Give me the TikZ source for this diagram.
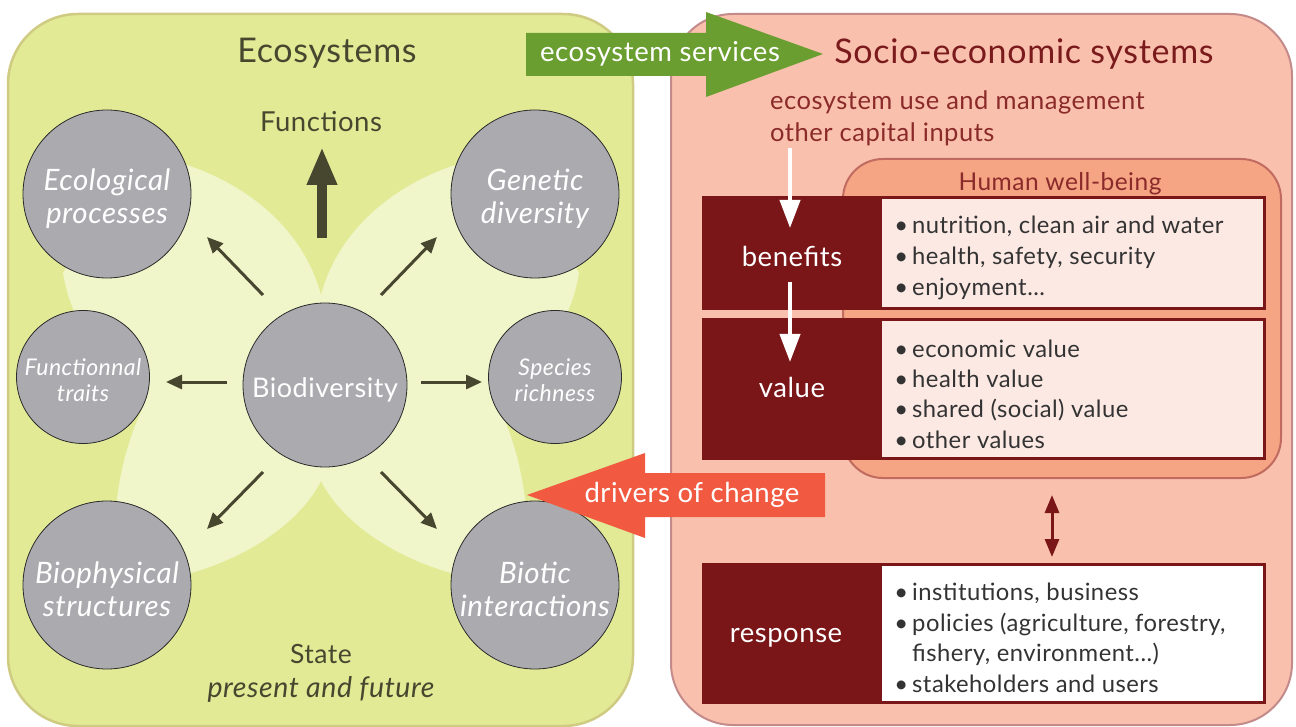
\documentclass[tikz,border=0pt]{standalone}
\usepackage{fontspec}
\setmainfont{Lato}[LetterSpace=2]
\usetikzlibrary{arrows.meta}
\definecolor{ecofill}{HTML}{E2EA96}
\definecolor{ecoborder}{HTML}{CFCB82}
\definecolor{wingc}{HTML}{F0F6CA}
\definecolor{circgray}{HTML}{ABABAF}
\definecolor{circline}{HTML}{2A2A2A}
\definecolor{olivedark}{HTML}{47472F}
\definecolor{esgreen}{HTML}{6A9E30}
\definecolor{sefill}{HTML}{F9C1AD}
\definecolor{seborder}{HTML}{C48A8A}
\definecolor{hwbfill}{HTML}{F5A584}
\definecolor{hwbborder}{HTML}{C06A60}
\definecolor{darkred}{HTML}{7A1518}
\definecolor{lightpink}{HTML}{FCE9E3}
\definecolor{driverred}{HTML}{F15A40}
\definecolor{titlered}{HTML}{7A1A1C}
\definecolor{subred}{HTML}{8B2A2A}
\definecolor{bodytext}{HTML}{333333}
\newcommand{\fsz}[2]{\fontsize{#1}{#2}\selectfont}
\begin{document}
\begin{tikzpicture}[x=1pt,y=-1pt,
  circ/.style={circle, draw=circline, line width=0.8pt, fill=circgray, inner sep=0pt},
  ctext/.style={text=white, align=center, inner sep=0pt},
  smallarr/.style={draw=olivedark, line width=3pt, -{Triangle[length=16pt,width=14pt]}},
  bigarr/.style={draw=olivedark, line width=10pt, -{Triangle[length=38pt,width=28pt]}},
  whitearr/.style={draw=white, line width=4pt, -{Triangle[length=28pt,width=20pt]}},
  redarr/.style={draw=darkred, line width=3pt, {Triangle[length=18pt,width=14pt]}-{Triangle[length=18pt,width=14pt]}},
  rowdark/.style={fill=darkred, draw=none, anchor=north west, inner sep=0pt},
  rowlight/.style={draw=none, anchor=north west, inner sep=0pt},
  rowlabel/.style={text=white, anchor=base, font=\fsz{27.5}{32}},
  bullet/.style={text=bodytext, anchor=base west, font=\fsz{23.8}{28}, inner sep=0pt},
  eotext/.style={text=olivedark}
]
\useasboundingbox (0,0) rectangle (1296,727);
% panels
\draw[fill=ecofill, draw=ecoborder, line width=2.5pt, rounded corners=70pt] (8,14) rectangle (633,726);
\draw[fill=sefill, draw=seborder, line width=2pt, rounded corners=62pt] (671,14) rectangle (1292,725);
% butterfly
\fill[wingc] (321,295) .. controls (305,235) and (255,188) .. (187,165)
 -- (107,194) -- (63,273) .. controls (66,290) and (70,303) .. (76,315)
 -- (83,377) -- (143,407) .. controls (128,440) and (118,475) .. (115,520)
 -- (107,585) -- (191,573) .. controls (250,556) and (300,522) .. (321,481)
 .. controls (342,522) and (392,556) .. (451,573)
 -- (535,585) -- (527,520) .. controls (524,475) and (514,440) .. (499,407)
 -- (559,377) -- (566,315) .. controls (572,303) and (576,290) .. (579,273)
 -- (535,194) -- (455,165) .. controls (387,188) and (337,235) .. (321,295) -- cycle;
% circles
\node[circ, minimum size=168pt] (eco) at (107,194) {};
\node[circ, minimum size=168pt] (gen) at (535,194) {};
\node[circ, minimum size=133pt] (fun) at (83,377) {};
\node[circ, minimum size=133pt] (spe) at (555,377) {};
\node[circ, minimum size=164pt] (bio) at (325,385) {};
\node[circ, minimum size=168pt] (bph) at (107,585) {};
\node[circ, minimum size=168pt] (bot) at (535,585) {};
\node[ctext, font=\fsz{29.5}{33}\itshape] (ecot) at ([yshift=-5pt]eco.center) {Ecological\\processes};
\node[ctext, font=\fsz{29.5}{33}\itshape] (gent) at ([yshift=-5pt]gen.center) {Genetic\\diversity};
\node[ctext, font=\fsz{23}{26}\itshape] (funt) at ([yshift=-3pt]fun.center) {Functionnal\\traits};
\node[ctext, font=\fsz{23}{26}\itshape] (spet) at ([yshift=-3pt]spe.center) {Species\\richness};
\node[ctext, font=\fsz{27}{33}] (biot) at ([yshift=-5pt]bio.center) {Biodiversity};
\node[ctext, font=\fsz{29.5}{33}\itshape] (bpht) at ([yshift=-4pt]bph.center) {Biophysical\\structures};
\node[ctext, font=\fsz{29.5}{33}\itshape] (bott) at ([yshift=-4pt]bot.center) {Biotic\\interactions};
% arrows from biodiversity
\coordinate (aeco0) at (263,295); \coordinate (aeco1) at (207,237);
\coordinate (agen0) at (381,295); \coordinate (agen1) at (437,237);
\coordinate (afun0) at (227,382); \coordinate (afun1) at (166,382);
\coordinate (aspe0) at (421,382); \coordinate (aspe1) at (482,382);
\coordinate (abph0) at (263,472); \coordinate (abph1) at (207,529);
\coordinate (abot0) at (381,472); \coordinate (abot1) at (437,529);
\draw[smallarr] (aeco0) -- (aeco1);
\draw[smallarr] (agen0) -- (agen1);
\draw[smallarr] (afun0) -- (afun1);
\draw[smallarr] (aspe0) -- (aspe1);
\draw[smallarr] (abph0) -- (abph1);
\draw[smallarr] (abot0) -- (abot1);
\coordinate (fa0) at (322,238); \coordinate (fa1) at (322,147);
\draw[bigarr] (fa0) -- (fa1);
% left texts
\node[eotext, anchor=base, font=\fsz{34}{38}] (ecotitle) at (327,63) {Ecosystems};
\node[eotext, anchor=base, font=\fsz{27.5}{32}] (functions) at (321,132) {Functions};
\node[eotext, anchor=base, font=\fsz{26.5}{30}] (state) at (321,663) {State};
\node[eotext, anchor=base, font=\fsz{28.5}{32}\itshape] (future) at (321,697) {present and future};
% right texts
\node[text=titlered, anchor=base, font=\fsz{34}{38}] (setitle) at (1024,64) {Socio-economic systems};
\node[text=subred, anchor=base west, font=\fsz{25.5}{30}, inner sep=0pt] (use1) at (770,110) {ecosystem use and management};
\node[text=subred, anchor=base west, font=\fsz{25.5}{30}, inner sep=0pt] (use2) at (770,141.5) {other capital inputs};
% human well-being
\draw[fill=hwbfill, draw=hwbborder, line width=2pt, rounded corners=40pt] (843,159) rectangle (1281,478);
\node[text=subred, anchor=base, font=\fsz{24.5}{28}] (hwb) at (1060,191) {Human well-being};
% rows
\node[rowdark, minimum width=564pt, minimum height=114pt] (benrow) at (702,196) {};
\node[rowlight, fill=lightpink, minimum width=381pt, minimum height=108pt] (benbox) at (882,199) {};
\node[rowdark, minimum width=564pt, minimum height=142pt] (valrow) at (702,318) {};
\node[rowlight, fill=lightpink, minimum width=381pt, minimum height=136pt] (valbox) at (882,321) {};
\node[rowdark, minimum width=564pt, minimum height=141pt] (resrow) at (702,563) {};
\node[rowlight, fill=white, minimum width=381pt, minimum height=135pt] (resbox) at (882,566) {};
\node[rowlabel] (benlab) at (792,267) {benefits};
\node[rowlabel] (vallab) at (792,397) {value};
\node[rowlabel] (reslab) at (786,642) {response};
% bullets
\node[bullet] (b1) at (912,234) {\llap{•\hspace{4pt}}nutrition, clean air and water};
\node[bullet] (b2) at (912,265) {\llap{•\hspace{4pt}}health, safety, security};
\node[bullet] (b3) at (912,296) {\llap{•\hspace{4pt}}enjoyment...};
\node[bullet] (v1) at (912,357) {\llap{•\hspace{4pt}}economic value};
\node[bullet] (v2) at (912,387) {\llap{•\hspace{4pt}}health value};
\node[bullet] (v3) at (912,417.5) {\llap{•\hspace{4pt}}shared (social) value};
\node[bullet] (v4) at (912,448) {\llap{•\hspace{4pt}}other values};
\node[bullet] (r1) at (912,600) {\llap{•\hspace{4pt}}institutions, business};
\node[bullet] (r2) at (912,631) {\llap{•\hspace{4pt}}policies (agriculture, forestry,};
\node[bullet] (r3) at (912,661.5) {fishery, environment...)};
\node[bullet] (r4) at (912,692) {\llap{•\hspace{4pt}}stakeholders and users};
% white arrows
\coordinate (wa0) at (790,148); \coordinate (wa1) at (790,228);
\coordinate (wb0) at (790,282); \coordinate (wb1) at (790,362);
\draw[whitearr] (wa0) -- (wa1);
\draw[whitearr] (wb0) -- (wb1);
% double arrow
\coordinate (da0) at (1052,495); \coordinate (da1) at (1052,557);
\draw[redarr] (da0) -- (da1);
% ecosystem services arrow
\fill[esgreen] (526,33) -- (706,33) -- (706,12) -- (823,54) -- (706,97) -- (706,76) -- (526,76) -- cycle;
\node[text=white, anchor=base, font=\fsz{27.5}{32}] (es) at (660,62) {ecosystem services};
% drivers of change arrow
\fill[driverred] (825,473) -- (645,473) -- (645,453) -- (527,495) -- (645,538) -- (645,517) -- (825,517) -- cycle;
\node[text=white, anchor=base, font=\fsz{27.5}{32}] (dc) at (692,502) {drivers of change};
\end{tikzpicture}
\end{document}
